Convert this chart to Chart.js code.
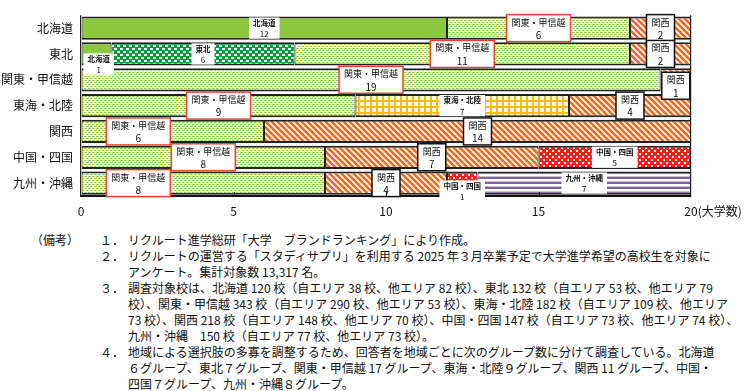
<!DOCTYPE html>
<html>
<head>
<meta charset="utf-8">
<script src="https://cdn.jsdelivr.net/npm/chart.js@4.4.1/dist/chart.umd.min.js"></script>
<style>
  body { margin: 0; background: #fff; width: 745px; height: 391px; overflow: hidden; font-family: "Noto Sans CJK JP", sans-serif; }
  #wrap { position: relative; width: 745px; height: 225px; }
  .notes { position: absolute; top: 232px; left: 0; font-size: 12px; color: #111; }
  .ln { position: relative; padding-left: 128px; height: 16px; line-height: 16px; white-space: nowrap; }
  .hd { position: absolute; left: 31px; }
  .no { position: absolute; left: 100px; }
</style>
</head>
<body>
<div id="wrap"><canvas id="chart" width="745" height="225"></canvas></div>
<div class="notes">
  <div class="ln"><span class="hd">（備考）</span><span class="no">１．</span>リクルート進学総研「大学　ブランドランキング」により作成。</div>
  <div class="ln"><span class="no">２．</span>リクルートの運営する「スタディサプリ」を利用する 2025 年３月卒業予定で大学進学希望の高校生を対象に</div>
  <div class="ln">アンケート。集計対象数 13,317 名。</div>
  <div class="ln"><span class="no">３．</span>調査対象校は、北海道 120 校（自エリア 38 校、他エリア 82 校）、東北 132 校（自エリア 53 校、他エリア 79</div>
  <div class="ln">校）、関東・甲信越 343 校（自エリア 290 校、他エリア 53 校）、東海・北陸 182 校（自エリア 109 校、他エリア</div>
  <div class="ln">73 校）、関西 218 校（自エリア 148 校、他エリア 70 校）、中国・四国 147 校（自エリア 73 校、他エリア 74 校）、</div>
  <div class="ln">九州・沖縄　150 校（自エリア 77 校、他エリア 73 校）。</div>
  <div class="ln"><span class="no">４．</span>地域による選択肢の多寡を調整するため、回答者を地域ごとに次のグループ数に分けて調査している。北海道</div>
  <div class="ln">６グループ、東北７グループ、関東・甲信越 17 グループ、東海・北陸９グループ、関西 11 グループ、中国・</div>
  <div class="ln">四国７グループ、九州・沖縄８グループ。</div>
</div>
<script>
// ---- data ----
const categories = ["北海道", "東北", "関東・甲信越", "東海・北陸", "関西", "中国・四国", "九州・沖縄"];
const hokkaidoVals = [12, 1, null, null, null, null, null];
const tohokuVals = [null, 6, null, null, null, null, null];
const kantoVals = [6, 11, 19, 9, 6, 8, 8];
const tokaiVals = [null, null, null, 7, null, null, null];
const kansaiVals = [2, 2, 1, 4, 14, 7, 4];
const chugokuVals = [null, null, null, null, null, 5, 1];
const kyushuVals = [null, null, null, null, null, null, 7];
const xTicks = [0, 5, 10, 15, 20];
const unitLabel = "(大学数)";

// label nudges (value units / px) where the source moved a label off-centre
const labelShift = {
  "東北|北海道": { dx: 0.07, dy: 10 },
  "関東・甲信越|関西": { dx: 0, dy: 6 },
  "関西|関東・甲信越": { dx: -1.13, dy: 0 },
  "九州・沖縄|関東・甲信越": { dx: -2.13, dy: 0 },
  "九州・沖縄|中国・四国": { dx: 0, dy: 8 },
};

const FONT = '"Noto Sans CJK JP", sans-serif';

/** ────── PATTERNS ────── */
function makePattern(w, h, draw) {
  const c = document.createElement("canvas");
  c.width = w;
  c.height = h;
  const g = c.getContext("2d");
  draw(g);
  return g.createPattern(c, "repeat");
}

const fills = {
  hokkaido: "#8dc63f",
  tohoku: makePattern(6, 6, (g) => {
    g.fillStyle = "#00a040"; g.fillRect(0, 0, 6, 6);
    g.fillStyle = "#fff"; g.fillRect(0, 0, 3, 2); g.fillRect(3, 3, 3, 2);
  }),
  kanto: makePattern(4, 4, (g) => {
    g.fillStyle = "#f4f9ec"; g.fillRect(0, 0, 4, 4);
    g.fillStyle = "#94c95a"; g.fillRect(0, 0, 2, 1); g.fillRect(2, 2, 2, 1);
    g.fillStyle = "#c2e09c"; g.fillRect(2, 0, 1, 1); g.fillRect(0, 2, 1, 1);
  }),
  tokai: makePattern(6, 6, (g) => {
    g.fillStyle = "#ffbb00"; g.fillRect(0, 0, 6, 6);
    g.fillStyle = "#fff"; g.fillRect(0, 0, 4, 4);
  }),
  kansai: makePattern(6, 6, (g) => {
    g.fillStyle = "#fff"; g.fillRect(0, 0, 6, 6);
    g.strokeStyle = "#f26a1b"; g.lineWidth = 2.6;
    g.beginPath();
    g.moveTo(-6, 0); g.lineTo(6, 12);
    g.moveTo(0, 0); g.lineTo(6, 6);
    g.moveTo(0, -6); g.lineTo(12, 6);
    g.moveTo(-3, 3); g.lineTo(3, 9);
    g.stroke();
  }),
  chugoku: makePattern(6, 6, (g) => {
    g.fillStyle = "#ff1a1a"; g.fillRect(0, 0, 6, 6);
    g.fillStyle = "#fff"; g.fillRect(0, 0, 2, 2); g.fillRect(3, 3, 2, 2);
  }),
  kyushu: makePattern(4, 5, (g) => {
    g.fillStyle = "#fff"; g.fillRect(0, 0, 4, 5);
    g.fillStyle = "#8064a2"; g.fillRect(0, 2, 4, 2);
    g.fillStyle = "#c9bbdc"; g.fillRect(0, 1, 4, 1);
  }),
};

/** ────── DATASETS ────── */
function series(label, data, fill, tag) {
  return {
    label,
    data,
    backgroundColor: fill,
    borderColor: "#222",
    borderWidth: { top: 2, bottom: 2, left: 1, right: 1 },
    borderSkipped: false,
    tag,
  };
}

const datasets = [
  series("北海道", hokkaidoVals, fills.hokkaido, "small"),
  series("東北", tohokuVals, fills.tohoku, "small"),
  series("関東・甲信越", kantoVals, fills.kanto, "red"),
  series("東海・北陸", tokaiVals, fills.tokai, "small"),
  series("関西", kansaiVals, fills.kansai, "black"),
  series("中国・四国", chugokuVals, fills.chugoku, "small"),
  series("九州・沖縄", kyushuVals, fills.kyushu, "small"),
];

/** ────── PLUGINS ────── */
const segmentLabels = {
  id: "segmentLabels",
  afterDatasetsDraw(chart) {
    const { ctx } = chart;
    const xs = chart.scales.x;
    const unit = xs.getPixelForValue(1) - xs.getPixelForValue(0);
    chart.data.datasets.forEach((ds, di) => {
      const meta = chart.getDatasetMeta(di);
      meta.data.forEach((bar, i) => {
        const v = ds.data[i];
        if (v == null) return;
        const shift = labelShift[categories[i] + "|" + ds.label] || { dx: 0, dy: 0 };
        const cx = (bar.x + bar.base) / 2 + shift.dx * unit;
        const cy = bar.y + shift.dy;
        ctx.save();
        ctx.textAlign = "center";
        ctx.textBaseline = "middle";
        if (ds.tag === "small") {
          ctx.font = `bold 7.5px ${FONT}`;
          const w = Math.max(ctx.measureText(ds.label).width, ctx.measureText(String(v)).width) + 8;
          const h = bar.height - 2;
          ctx.fillStyle = "#fff";
          ctx.fillRect(cx - w / 2, cy - h / 2, w, h);
          ctx.fillStyle = "#111";
          ctx.fillText(ds.label, cx, cy - 5);
          ctx.font = `8px ${FONT}`;
          ctx.fillText(String(v), cx, cy + 6);
        } else {
          ctx.font = `9px ${FONT}`;
          const w = ctx.measureText(ds.label).width + 10;
          const h = 27;
          ctx.fillStyle = "#fff";
          ctx.fillRect(cx - w / 2, cy - h / 2, w, h);
          ctx.lineWidth = 1.5;
          ctx.strokeStyle = ds.tag === "red" ? "#e8452c" : "#111";
          ctx.strokeRect(cx - w / 2, cy - h / 2, w, h);
          ctx.fillStyle = "#111";
          ctx.fillText(ds.label, cx, cy - 6);
          ctx.font = `10px ${FONT}`;
          ctx.fillText(String(v), cx, cy + 7);
        }
        ctx.restore();
      });
    });
  },
};

const axisExtras = {
  id: "axisExtras",
  afterDraw(chart) {
    const { ctx, chartArea } = chart;
    const xs = chart.scales.x;
    ctx.save();
    ctx.strokeStyle = "#111";
    ctx.lineWidth = 1.2;
    xTicks.slice(1, -1).forEach((t) => {
      const px = Math.round(xs.getPixelForValue(t)) + 0.5;
      ctx.beginPath();
      ctx.moveTo(px, chartArea.bottom);
      ctx.lineTo(px, chartArea.bottom - 4);
      ctx.stroke();
    });
    ctx.font = `12px ${FONT}`;
    ctx.fillStyle = "#111";
    ctx.textBaseline = "middle";
    ctx.textAlign = "left";
    const last = xTicks[xTicks.length - 1];
    const lx = xs.getPixelForValue(last) + ctx.measureText(String(last)).width / 2;
    ctx.fillText(unitLabel, lx, chartArea.bottom + 15);
    ctx.restore();
  },
};

/** ────── CHART ────── */
new Chart(document.getElementById("chart"), {
  type: "bar",
  data: { labels: categories, datasets },
  plugins: [segmentLabels, axisExtras],
  options: {
    indexAxis: "y",
    responsive: false,
    animation: false,
    layout: { padding: { top: 2, right: 54, bottom: 0, left: 0 } },
    plugins: { legend: { display: false }, tooltip: { enabled: false } },
    datasets: { bar: { categoryPercentage: 1, barPercentage: 0.9 } },
    scales: {
      x: {
        stacked: true,
        min: 0,
        max: 20,
        afterBuildTicks: (s) => { s.ticks = xTicks.map((value) => ({ value })); },
        afterFit: (s) => { s.height = 29; },
        border: { display: true, color: "#111", width: 2 },
        grid: {
          drawTicks: false,
          color: (c) => (c.tick && (c.tick.value === 0 || c.tick.value === 20) ? "#222" : "transparent"),
          lineWidth: 1.2,
        },
        ticks: { color: "#111", padding: 8, font: { family: FONT, size: 12 } },
      },
      y: {
        stacked: true,
        afterFit: (s) => { s.width = 81; },
        border: { display: false },
        grid: { display: false, drawTicks: false },
        ticks: { color: "#111", padding: 8, font: { family: FONT, size: 12 } },
      },
    },
  },
});
</script>
</body>
</html>
